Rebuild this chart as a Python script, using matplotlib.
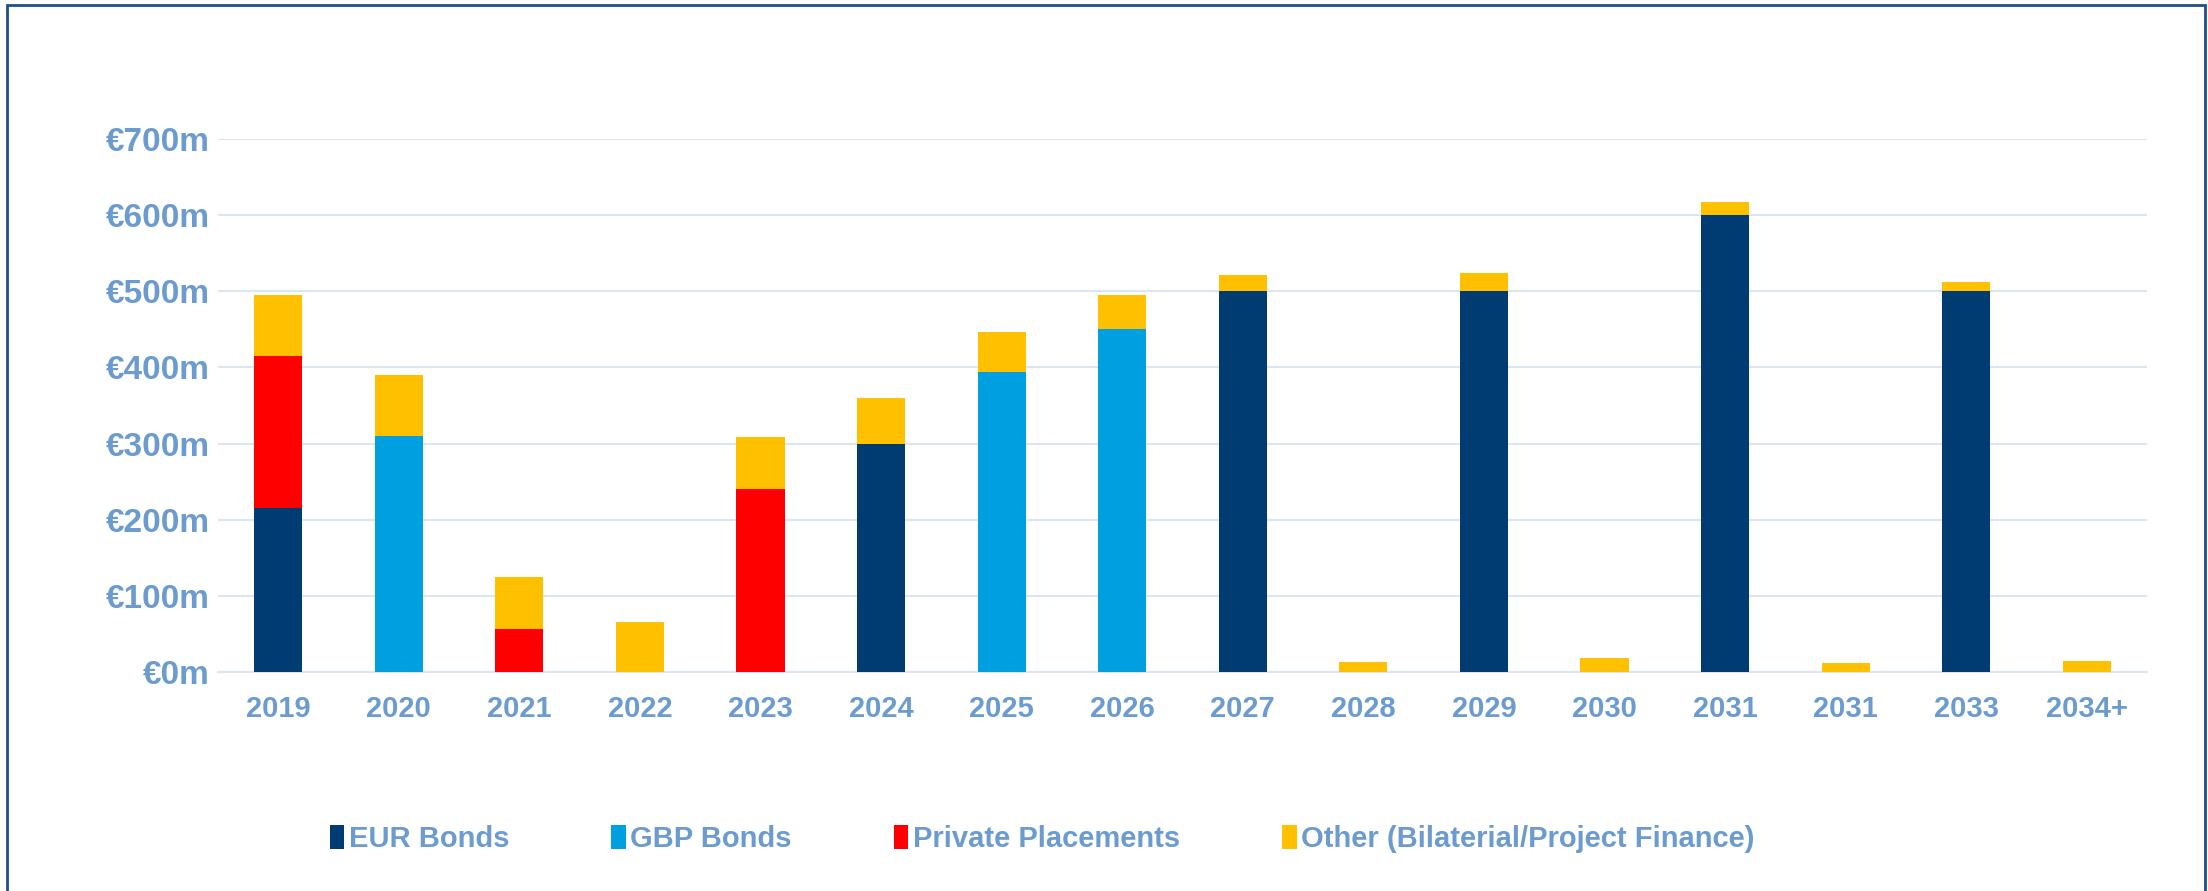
import matplotlib.pyplot as plt
from matplotlib.patches import Rectangle
import numpy as np

plt.rcParams['font.family'] = ['Liberation Sans', 'DejaVu Sans']
plt.rcParams['font.weight'] = 'bold'

years = ['2019', '2020', '2021', '2022', '2023', '2024', '2025', '2026',
         '2027', '2028', '2029', '2030', '2031', '2031', '2033', '2034+']

# maturities in EUR millions
eur_bonds = [215, 0, 0, 0, 0, 300, 0, 0, 500, 0, 500, 0, 600, 0, 500, 0]
gbp_bonds = [0, 310, 0, 0, 0, 0, 394, 450, 0, 0, 0, 0, 0, 0, 0, 0]
private_placements = [200, 0, 56, 0, 240, 0, 0, 0, 0, 0, 0, 0, 0, 0, 0, 0]
other = [80, 80, 69, 65, 69, 60, 53, 45, 22, 13, 24, 18, 18, 12, 13, 14]

series = [
    ('EUR Bonds', eur_bonds, '#003b71'),
    ('GBP Bonds', gbp_bonds, '#009fdf'),
    ('Private Placements', private_placements, '#ff0000'),
    ('Other (Bilaterial/Project Finance)', other, '#ffc000'),
]

text_color = '#6c9bcf'
grid_color = '#dce6f2'

fig = plt.figure(figsize=(22.08, 8.91), dpi=100)
ax = fig.add_axes([0.0987, 0.2462, 0.8737, 0.5974])

x = np.arange(len(years))
bottom = np.zeros(len(years))
for name, values, color in series:
    ax.bar(x, values, width=0.4, bottom=bottom, color=color, label=name,
           zorder=3)
    bottom += np.array(values)

ax.set_xlim(-0.5, len(years) - 0.5)
ax.set_ylim(0, 700)
ax.set_yticks(np.arange(0, 800, 100))
ax.set_yticklabels(['€%dm' % v for v in range(0, 800, 100)])
ax.set_xticks(x)
ax.set_xticklabels(years)

ax.grid(axis='y', color=grid_color, linewidth=1.5, zorder=0)
ax.tick_params(axis='both', length=0, labelcolor=text_color)
ax.tick_params(axis='x', pad=17, labelsize=21)
ax.tick_params(axis='y', pad=6, labelsize=24)
for side in ['top', 'right', 'left']:
    ax.spines[side].set_visible(False)
ax.spines['bottom'].set_color(grid_color)
ax.spines['bottom'].set_linewidth(1.5)

leg = fig.legend(loc='center', bbox_to_anchor=(0.472, 0.058), ncol=4,
                 frameon=False, fontsize=21, handlelength=0.5,
                 handleheight=0.9, handletextpad=0.15, columnspacing=3.5)
for t in leg.get_texts():
    t.set_color(text_color)

# outer border
fig.patches.append(Rectangle((7 / 2208, -0.02), 2198 / 2208, 1 - 5 / 891 + 0.02,
                             transform=fig.transFigure, fill=False,
                             edgecolor='#1f4e8c', linewidth=2))

fig.savefig('out.png', dpi=100)
